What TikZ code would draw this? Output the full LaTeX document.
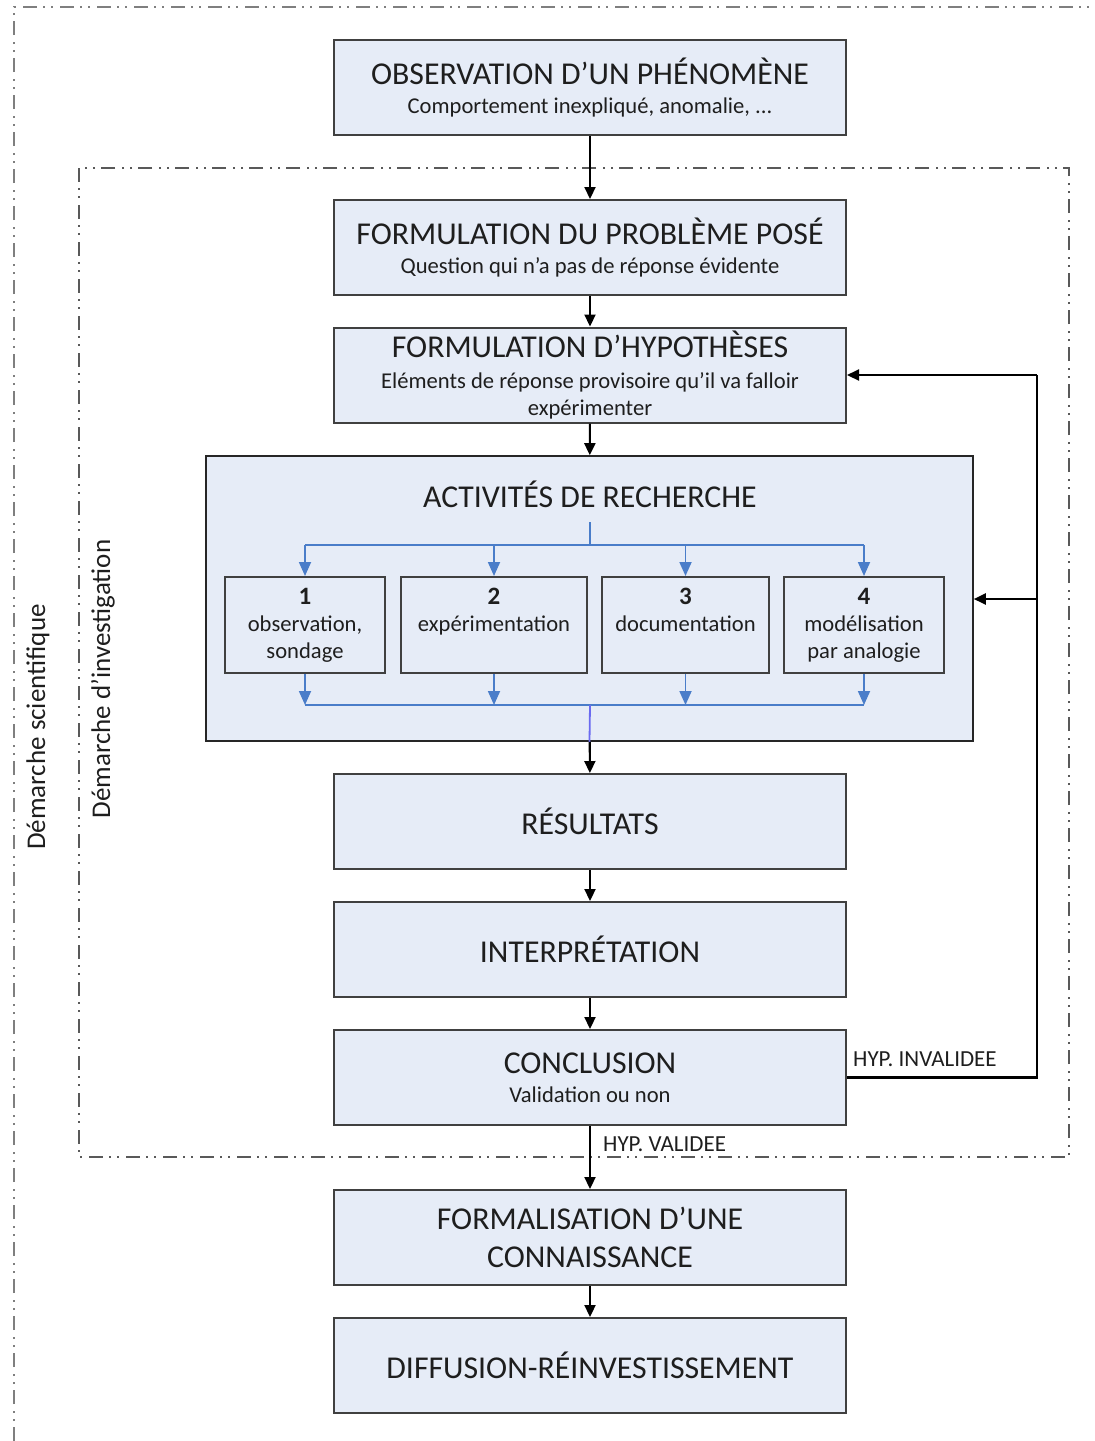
\documentclass[tikz,border=0pt]{standalone}
\usepackage{fontspec}
\setmainfont{Carlito}
\usetikzlibrary{arrows.meta}
\definecolor{boxfill}{HTML}{E6ECF7}
\definecolor{boxline}{HTML}{404040}
\definecolor{bluel}{HTML}{4A7DC9}
\definecolor{bluev}{HTML}{6A6AF0}
\definecolor{dashg}{HTML}{7F7F7F}
\definecolor{txt}{HTML}{1E1E1E}
\newcommand\bigt{\fontsize{31.8}{36}\selectfont}
\newcommand\smt{\fontsize{22.6}{27}\selectfont}
\newcommand\subt{\fontsize{22.6}{27}\selectfont}
\newcommand\numt[1]{{\fontsize{25}{27}\selectfont\bfseries #1}}
\begin{document}
\begin{tikzpicture}[x=1pt,y=-1pt,
  box/.style={draw=boxline, line width=2pt, fill=boxfill, minimum width=512pt,
    minimum height=95pt, align=center, inner sep=0pt, text=txt, font=\smt},
  actbox/.style={draw=black!85, line width=1.6pt, fill=boxfill, minimum width=767pt,
    minimum height=285pt, inner sep=0pt},
  subbox/.style={draw=boxline, line width=2pt, fill=boxfill, minimum height=96pt,
    align=center, inner sep=0pt, text=txt, font=\subt},
  arr/.style={-{Triangle[length=12pt,width=11pt]}, line width=2.2pt, draw=black},
  barr/.style={-{Triangle[length=14pt,width=12pt]}, line width=1.8pt, draw=bluel},
  bline/.style={line width=1.8pt, draw=bluel},
  fb/.style={line width=2.4pt, draw=black},
  outerdash/.style={draw=dashg, line width=2.6pt, dash pattern=on 14pt off 6pt on 2pt off 6pt on 2pt off 7pt},
  innerdash/.style={draw=black!65, line width=1.8pt, dash pattern=on 14pt off 6pt on 2pt off 6pt on 2pt off 7pt},
  lbl/.style={font=\fontsize{23}{26}\selectfont, text=txt, inner sep=0pt},
  side/.style={font=\fontsize{27}{30}\selectfont, text=txt, rotate=90, inner sep=0pt}]
\useasboundingbox (0,0) rectangle (1095,1441);

% frames
\draw[outerdash] (14,1441) -- (14,7) -- (1095,7);
\draw[innerdash] (79,168) rectangle (1069,1157);
\node[side] (ds) at (38,727) {Démarche scientifique};
\node[side] (di) at (103,679) {Démarche d’investigation};

% main boxes
\node[box] (obs) at (590,87.5) {{\bigt OBSERVATION D’UN PHÉNOMÈNE}\\[2pt]Comportement inexpliqué, anomalie, ...};
\node[box] (prob) at (590,247.5) {{\bigt FORMULATION DU PROBLÈME POSÉ}\\[2pt]Question qui n’a pas de réponse évidente};
\node[box] (hyp) at (590,375) {{\bigt FORMULATION D’HYPOTHÈSES}\\[4pt]Eléments de réponse provisoire qu’il va falloir\\expérimenter};
\node[actbox] (act) at (589.5,598.5) {};
\node[font=\bigt, text=txt, inner sep=0pt] (actt) at (590,494) {ACTIVITÉS DE RECHERCHE};
\node[subbox, minimum width=160pt] (s1) at (305,625) {\numt{1}\\observation,\\sondage};
\node[subbox, minimum width=186pt] (s2) at (494,625) {\numt{2}\\expérimentation\\\vphantom{sondage}};
\node[subbox, minimum width=167pt] (s3) at (685.5,625) {\numt{3}\\documentation\\\vphantom{sondage}};
\node[subbox, minimum width=160pt] (s4) at (864,625) {\numt{4}\\modélisation\\par analogie};
\node[box, font=\bigt] (res) at (590,821.5) {RÉSULTATS};
\node[box, font=\bigt] (int) at (590,949.5) {INTERPRÉTATION};
\node[box] (conc) at (590,1077.5) {{\bigt CONCLUSION}\\[2pt]Validation ou non};
\node[box, font=\fontsize{31.8}{38}\selectfont] (form) at (590,1237.5) {FORMALISATION D’UNE\\CONNAISSANCE};
\node[box, font=\bigt] (diff) at (590,1365.5) {DIFFUSION-RÉINVESTISSEMENT};

% blue distribution
\coordinate (bt) at (590,522);
\coordinate (bj) at (590,545);
\coordinate (bb) at (590,705);
\draw[bline] (bt) -- (bj);
\draw[bline] (s1.north |- bj) -- (s4.north |- bj);
\foreach \s in {s1,s2,s3,s4}{
  \draw[barr] (\s.north |- bj) -- (\s.north);
  \draw[barr] (\s.south) -- (\s.south |- bb);
}
\draw[bline] (s1.south |- bb) -- (s4.south |- bb);
\draw[line width=1.8pt, draw=bluev] (bb) -- (act.south);

% main flow
\draw[arr] (obs) -- (prob);
\draw[arr] (prob) -- (hyp);
\draw[arr] (hyp) -- (act);
\draw[arr] (act) -- (res);
\draw[arr] (res) -- (int);
\draw[arr] (int) -- (conc);
\draw[arr] (conc) -- (form);
\draw[arr] (form) -- (diff);

% feedback
\coordinate (fbB) at (1037,1077.5);
\coordinate (fbT) at (1037,375);
\coordinate (fbM) at (1037,599);
\draw[fb] (conc.east) -- (fbB) -- (fbT);
\draw[fb, arr] (fbT) -- (hyp.east);
\draw[fb, arr] (fbM) -- (act.east |- fbM);

\node[lbl, anchor=west] (inv) at (853,1059) {HYP. INVALIDEE};
\node[lbl, anchor=west] (val) at (603,1144) {HYP. VALIDEE};
\end{tikzpicture}
\end{document}
